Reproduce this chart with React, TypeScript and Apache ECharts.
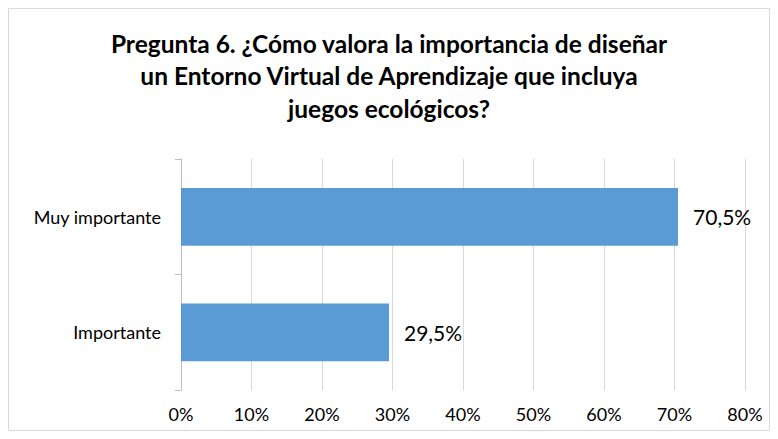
import React, { useEffect, useRef } from "react";
import * as echarts from "echarts";

const titleLines = [
  "Pregunta 6. ¿Cómo valora la importancia de diseñar",
  "un Entorno Virtual de Aprendizaje que incluya",
  "juegos ecológicos?",
];
const categories = ["Muy importante", "Importante"];
const values = [70.5, 29.5];
const xTicks = { min: 0, max: 80, interval: 10 };

const FONT = "Lato, 'Open Sans', sans-serif";

export default function App() {
  const ref = useRef<HTMLDivElement>(null);
  useEffect(() => {
    const chart = echarts.init(ref.current!, undefined, { renderer: "svg" });
    chart.setOption({
      animation: false,
      backgroundColor: "#ffffff",
      title: {
        text: titleLines.join("\n"),
        left: "center",
        top: 22,
        textStyle: {
          fontFamily: FONT,
          fontSize: 24.5,
          fontWeight: "bold",
          color: "#000000",
          lineHeight: 32.5,
        },
      },
      graphic: [
        {
          type: "rect",
          shape: { x: 8.5, y: 8.5, width: 761, height: 422 },
          style: { fill: "none", stroke: "#d9d9d9", lineWidth: 1 },
          silent: true,
        },
      ],
      grid: { left: 181, right: 33, top: 159, bottom: 49, containLabel: false },
      xAxis: {
        type: "value",
        min: xTicks.min,
        max: xTicks.max,
        interval: xTicks.interval,
        axisLine: { show: false },
        axisTick: { show: false },
        axisLabel: {
          formatter: "{value}%",
          fontFamily: FONT,
          fontSize: 18,
          color: "#000000",
          margin: 15,
        },
        splitLine: { show: true, lineStyle: { color: "#d9d9d9", width: 1 } },
      },
      yAxis: {
        type: "category",
        data: categories,
        inverse: true,
        axisLine: { show: true, lineStyle: { color: "#bfbfbf", width: 1 } },
        axisTick: { show: true, length: 6, lineStyle: { color: "#bfbfbf" } },
        axisLabel: {
          fontFamily: FONT,
          fontSize: 18,
          color: "#000000",
          margin: 20,
        },
      },
      series: [
        {
          type: "bar",
          data: values,
          barWidth: "50%",
          itemStyle: { color: "#5b9bd5" },
          label: {
            show: true,
            position: "right",
            distance: 15,
            fontFamily: FONT,
            fontSize: 21,
            color: "#000000",
            formatter: (p: any) => p.value.toFixed(1).replace(".", ",") + "%",
          },
        },
      ],
    });
    return () => chart.dispose();
  }, []);
  return (
    <div
      ref={ref}
      style={{ position: "fixed", left: 0, top: 0, width: 778, height: 439 }}
    />
  );
}
